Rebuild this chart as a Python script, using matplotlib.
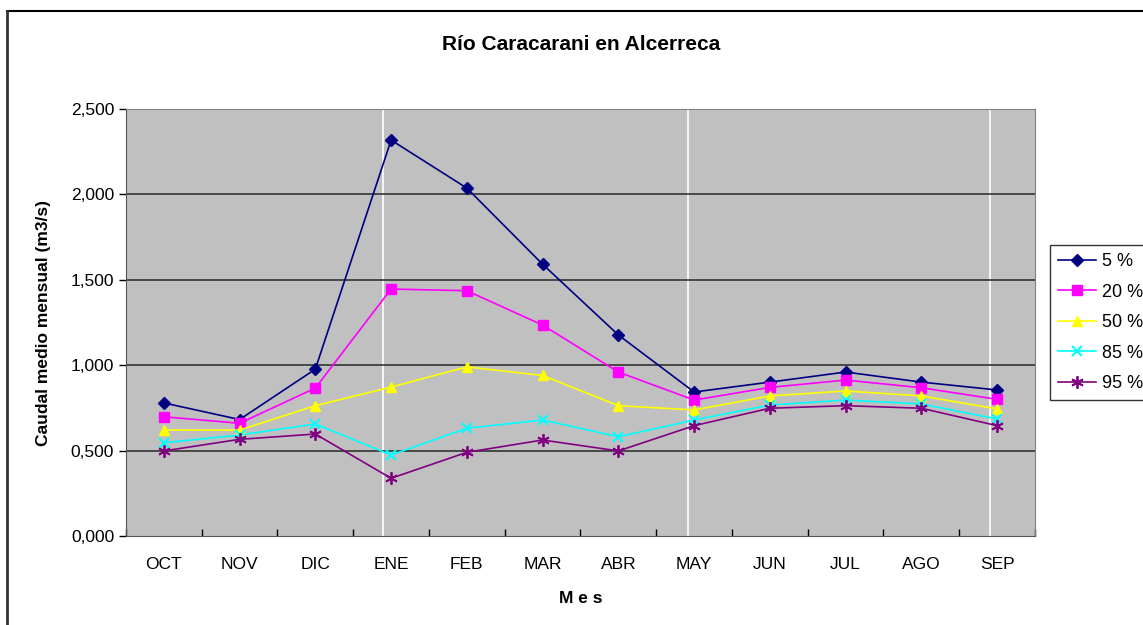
import numpy as np
import matplotlib.pyplot as plt
from matplotlib.lines import Line2D

# Monthly flow values (m3/s) by exceedance probability
months = ["OCT", "NOV", "DIC", "ENE", "FEB", "MAR", "ABR", "MAY", "JUN", "JUL", "AGO", "SEP"]
p05 = [0.779, 0.682, 0.977, 2.318, 2.037, 1.591, 1.177, 0.843, 0.901, 0.960, 0.901, 0.855]
p20 = [0.698, 0.660, 0.866, 1.446, 1.436, 1.235, 0.960, 0.796, 0.870, 0.913, 0.868, 0.800]
p50 = [0.620, 0.620, 0.763, 0.872, 0.990, 0.940, 0.763, 0.738, 0.820, 0.849, 0.820, 0.744]
p85 = [0.546, 0.591, 0.656, 0.474, 0.631, 0.679, 0.581, 0.679, 0.767, 0.796, 0.773, 0.685]
p95 = [0.498, 0.566, 0.597, 0.338, 0.490, 0.562, 0.498, 0.646, 0.748, 0.763, 0.748, 0.646]
labels = ["5 %", "20 %", "50 %", "85 %", "95 %"]

plt.rcParams['font.family'] = ['Liberation Sans', 'DejaVu Sans']

fig = plt.figure(figsize=(11.43, 6.25), dpi=100)
ax = fig.add_axes([0.1102, 0.1424, 0.7953, 0.6832])
ax.set_facecolor("#c0c0c0")

x = np.arange(len(months))

# odd white vertical lines in the original plot area
for xv in [2.89, 6.92, 10.9]:
    ax.axvline(xv, color="white", lw=1.2, zorder=1)

for yv in [0.5, 1.0, 1.5, 2.0]:
    ax.axhline(yv, color="#333333", lw=1.2, zorder=1)

ax.plot(x, p05, color="#000080", marker="D", ms=6, lw=1.2, label=labels[0], zorder=3)
ax.plot(x, p20, color="#ff00ff", marker="s", ms=6.5, lw=1.2, label=labels[1], zorder=3)
ax.plot(x, p50, color="#ffff00", marker="^", ms=7.5, lw=1.2, label=labels[2], zorder=3)
ax.plot(x, p85, color="#00ffff", marker="x", ms=7, mew=1.5, lw=1.2, label=labels[3], zorder=3)
ax.plot(x, p95, color="#800080", marker=(6, 2, 0), ms=9, mew=1.3, lw=1.2, label=labels[4], zorder=3)

ax.set_xlim(-0.5, 11.5)
ax.set_ylim(0, 2.5)
ax.set_xticks(np.arange(-0.5, 12, 1))
ax.set_xticklabels([])
ax.set_xticks(x, minor=True)
ax.set_xticklabels(months, minor=True, fontsize=12.5)
ax.tick_params(axis="x", which="minor", length=0, pad=15)
ax.tick_params(axis="x", which="major", length=5, direction="in", width=1)
ax.set_yticks(np.arange(0, 2.51, 0.5))
ax.set_yticklabels([f"{v:.3f}".replace(".", ",") for v in np.arange(0, 2.51, 0.5)], fontsize=12.5)
ax.tick_params(axis="y", length=5, direction="out", width=1)

for s in ["top", "right"]:
    ax.spines[s].set_color("#808080")
for s in ["left", "bottom"]:
    ax.spines[s].set_color("#555555")

ax.set_ylabel("Caudal medio mensual (m3/s)", fontsize=12.5, fontweight="bold", labelpad=14)
ax.set_xlabel("M e s", fontsize=12.5, fontweight="bold", labelpad=14)
fig.text(0.508, 0.928, "Río Caracarani en Alcerreca", ha="center", va="center",
         fontsize=15, fontweight="bold")

leg = ax.legend(loc="upper left", bbox_to_anchor=(1050 / 1143, 1 - 245 / 625),
                bbox_transform=fig.transFigure, fontsize=13,
                frameon=True, fancybox=False, edgecolor="black", handlelength=2.1,
                labelspacing=0.75, borderpad=0.45, handletextpad=0.35, borderaxespad=0)
leg.get_frame().set_linewidth(1)

# chart border (top and left visible)
fig.add_artist(Line2D([7 / 1143, 1.0], [1 - 11 / 625, 1 - 11 / 625], color="black", lw=1.5,
                      transform=fig.transFigure))
fig.add_artist(Line2D([7 / 1143, 7 / 1143], [0.0, 1 - 11 / 625], color="#333333", lw=2,
                      transform=fig.transFigure))

fig.savefig("out.png", dpi=100)
